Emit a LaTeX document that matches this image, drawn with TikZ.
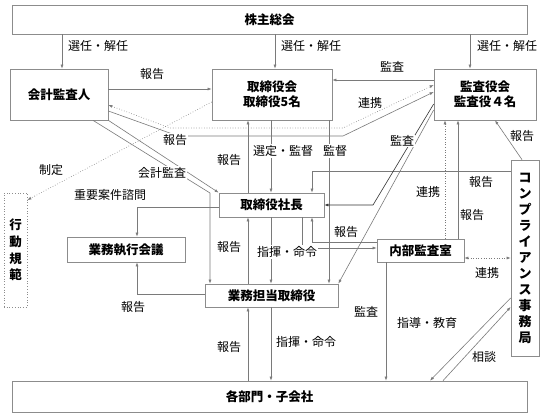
\documentclass[tikz,border=0pt]{standalone}
\usepackage{fontspec}
\setmainfont{Noto Sans CJK JP}
\usetikzlibrary{arrows.meta}
\definecolor{boxgray}{HTML}{8C8C8C}
\definecolor{linegray}{HTML}{7A7A7A}
\begin{document}
\begin{tikzpicture}[x=1pt,y=-1pt,
  box/.style={draw=boxgray, line width=0.7pt, fill=white, rectangle, inner sep=0pt,
    font=\fontsize{12.5}{15}\selectfont\bfseries, align=center},
  tip/.style={},
  conn/.style={draw=linegray, line width=0.6pt, -{Latex[length=4pt,width=3pt]}},
  dconn/.style={conn, dotted},
  dark/.style={draw=black!80},
  lab/.style={font=\fontsize{12}{14}\selectfont, inner sep=1pt},
  labw/.style={lab, fill=white}
]
\fill[white] (0,0) rectangle (543,417);
\useasboundingbox (0,0) rectangle (543,417);

% boxes
\node[box, minimum width=515pt, minimum height=29pt] (kabu) at (269.5,19.5) {株主総会};
\node[box, minimum width=98pt, minimum height=51pt] (kaikei) at (59,94.5) {会計監査人};
\node[box, minimum width=120pt, minimum height=51pt] (torikai) at (272,94.5) {取締役会\\取締役5名};
\node[box, minimum width=102pt, minimum height=51pt] (kansa) at (485,94.5) {監査役会\\監査役４名};
\node[box, minimum width=105pt, minimum height=24pt] (shacho) at (271.5,205) {取締役社長};
\node[box, minimum width=118pt, minimum height=25pt] (gyoumu) at (126,249.5) {業務執行会議};
\node[box, minimum width=87pt, minimum height=23pt] (naibu) at (420.5,250.5) {内部監査室};
\node[box, minimum width=133pt, minimum height=23pt] (tanto) at (271.5,295.5) {業務担当取締役};
\node[box, minimum width=515pt, minimum height=31pt] (bumon) at (269.5,396.5) {各部門・子会社};
\node[box, dotted, minimum width=23pt, minimum height=114pt, font=\fontsize{12.5}{16.7}\selectfont\bfseries] (koudou) at (15.5,250) {行\\動\\規\\範};
\node[box, minimum width=28pt, minimum height=196pt, font=\fontsize{13}{16}\selectfont\bfseries] (comp) at (525,258) {コ\\ン\\プ\\ラ\\イ\\ア\\ン\\ス\\事\\務\\局};

% shareholders
\draw[conn] (kabu.south -| 62,0) -- (kaikei.north -| 62,0);
\draw[conn] (kabu.south -| 275,0) -- (torikai.north -| 275,0);
\draw[conn] (kabu.south -| 470,0) -- (kansa.north -| 470,0);

% top row
\draw[conn] (kaikei.east |- 0,89) -- (torikai.west |- 0,89);
\draw[conn] (kansa.west |- 0,80) -- (torikai.east |- 0,80);
\draw[dconn, {Latex[length=4pt,width=3pt]}-{Latex[length=4pt,width=3pt]}] (kaikei.east |- 0,105) -- (170,128) -- (343,128) -- (kansa.west |- 0,85);
\draw[conn] (kaikei.east |- 0,111) -- (178,136) -- (343,136) -- (kansa.west |- 0,92);
\draw[dconn] (torikai.west |- 0,102) -- (koudou.east |- 0,200);

% accounting audit
\draw[conn] (kaikei.south east) -- (shacho.north west);
\draw[conn] (kaikei.south -| 93,0) -- (210,193) -- (tanto.north -| 210,0);

% board <-> president
\draw[conn] (shacho.north -| 248,0) -- (torikai.south -| 248,0);
\draw[conn] (torikai.south -| 271,0) -- (shacho.north -| 271,0);
\draw[conn] (torikai.south -| 329,0) -- (tanto.north -| 329,0);

% president <-> executive
\draw[conn] (tanto.north -| 248,0) -- (shacho.south -| 248,0);
\draw[conn] (shacho.south -| 271,0) -- (tanto.north -| 271,0);
\draw[conn] (shacho.south -| 302,0) -- (302,248) -- (naibu.west |- 0,248);
\draw[conn] (naibu.west |- 0,242) -- (312,242) -- (shacho.south -| 312,0);

% compliance
\draw[conn] (comp.west |- 0,171) -- (312,171) -- (shacho.north -| 312,0);
\draw[conn] (comp.north -| 522,0) -- (kansa.south -| 495,0);
\draw[conn] (comp.west |- 0,298) -- (bumon.north -| 430,0);
\draw[conn] (bumon.north -| 443,0) -- (comp.west |- 0,307);
\draw[dconn, {Latex[length=4pt,width=3pt]}-{Latex[length=4pt,width=3pt]}] (naibu.east |- 0,258) -- (comp.west |- 0,258);

% internal audit
\draw[conn] (naibu.north -| 458,0) -- (kansa.south -| 458,0);
\draw[dconn] (naibu.north -| 445,0) -- (kansa.south -| 445,0);
\draw[conn] (naibu.south -| 386,0) -- (bumon.north -| 386,0);

% auditors audit
\draw[conn, dark] (kansa.west |- 0,104) -- (373,205) -- (shacho.east |- 0,205);
\draw[conn] (kansa.west |- 0,110) -- (tanto.north east);

% executive <-> departments
\draw[conn] (tanto.south -| 271,0) -- (bumon.north -| 271,0);
\draw[conn] (bumon.north -| 248,0) -- (tanto.south -| 248,0);

% executive meeting
\draw[conn] (shacho.west |- 0,207) -- (137,207) -- (gyoumu.north -| 137,0);
\draw[conn] (tanto.west |- 0,294) -- (137,294) -- (gyoumu.south -| 137,0);

% labels
\node[lab, anchor=west] (l1) at (67,46) {選任・解任};
\node[lab, anchor=west] (l2) at (280,46) {選任・解任};
\node[lab, anchor=west] (l3) at (476,46) {選任・解任};
\node[lab] (l4) at (152,74) {報告};
\node[lab] (l5) at (392,67) {監査};
\node[lab] (l6) at (370,103) {連携};
\node[labw] (l7) at (175,140) {報告};
\node[lab] (l8) at (51,170) {制定};
\node[labw] (l9) at (162,173) {会計監査};
\node[lab] (l10) at (110,195) {重要案件諮問};
\node[lab] (l11) at (229,160) {報告};
\node[labw] (l12) at (283,151) {選定・監督};
\node[labw] (l13) at (335,151) {監督};
\node[labw] (l14) at (402,141) {監査};
\node[lab] (l15) at (522,136) {報告};
\node[lab] (l16) at (481,182) {報告};
\node[lab] (l17) at (428,192) {連携};
\node[lab] (l18) at (472,215) {報告};
\node[lab] (l19) at (229,247) {報告};
\node[labw] (l20) at (287,252) {指揮・命令};
\node[lab] (l21) at (346,232) {報告};
\node[lab] (l22) at (487,273) {連携};
\node[lab] (l23) at (133,307) {報告};
\node[lab] (l24) at (366,312) {監査};
\node[lab] (l25) at (427,323) {指導・教育};
\node[lab] (l26) at (229,347) {報告};
\node[lab] (l27) at (306,342) {指揮・命令};
\node[lab] (l28) at (484,357) {相談};
\end{tikzpicture}
\end{document}
